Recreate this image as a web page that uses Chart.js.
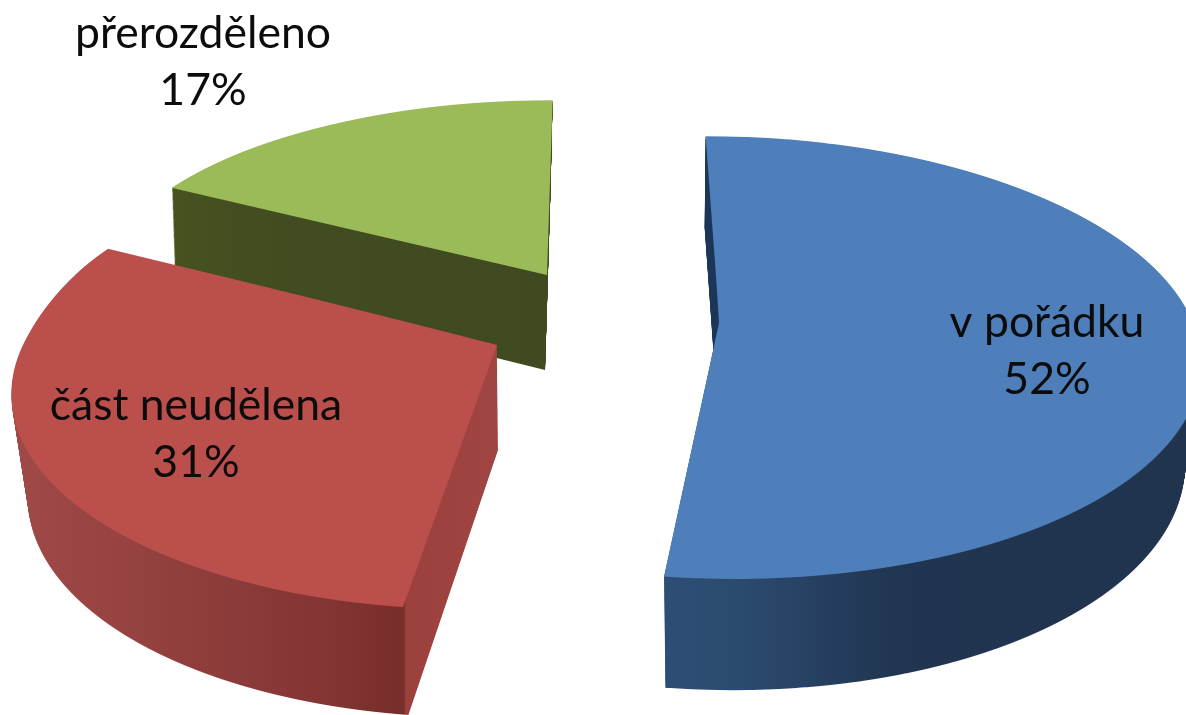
<!DOCTYPE html>
<html><head><meta charset="utf-8">
<style>html,body{margin:0;padding:0;background:#fff;overflow:hidden}canvas{display:block}</style>
<script src="https://cdn.jsdelivr.net/npm/chart.js@4"></script>
</head><body><canvas id="c" width="1186" height="715"></canvas>
<script>
const categories = ['v pořádku', 'část neudělena', 'přerozděleno'];
const values = [52, 31, 17];
const faceColors = ['#4e7fba', '#bb4f4c', '#9bba58'];

// Camera: how each exploded slice's disc projects onto the page (top face, bottom face).
// cu / c: horizontal lean of the far / near part of the disc.
const projTop = [
  {x:719, y:323, a:474, cu:16, c:13,  d:216, p:-.156},
  {x:497, y:345, a:474, cu:34, c:-18, d:217, p:-.18},
  {x:547, y:275, a:446, cu:-6, c:-6,  d:187, p:-.07}
];
const projBottom = [
  {x:718, y:423, a:459, cu:16, c:13,  d:226, p:-.154},
  {x:498, y:450, a:460, cu:34, c:-17, d:222, p:-.17},
  {x:545, y:370, a:440, cu:-6, c:-6,  d:197, p:-.07}
];
const wallShade = [
  {from:660, to:1186, stops:[[0,'#2d4e75'],[.16,'#2b4a6f'],[.45,'#203551'],[1,'#21344e']], cut:360, cutColor:'#1c3657'},
  {from:13, to:498, stops:[[0,'#a04a48'],[.4,'#8e3d3b'],[.65,'#833533'],[.806,'#772d2b'],[.81,'#9c403d'],[1,'#a04543']]},
  {from:172, to:548, stops:[[0,'#46521f'],[.3,'#414c21'],[1,'#404a20']]}
];
const labelPos = [[1047,337],[196,420],[203,48]];
const lineGap = 57;
const labelFont = '44.5px Lato';

const W = 1186, H = 715, BLEND = .35;
function lerp(s, e, t){const o={};for(const k in s)o[k]=s[k]+(e[k]-s[k])*t;return o;}

// sideways lean at depth v: c on the near half, easing to cu across the far half
function lean(P, v){
  if(v>=0) return {s:P.c*v, slope:P.c};
  if(v>-BLEND) return {s:P.c*v+(P.c-P.cu)*v*v/(2*BLEND), slope:P.c+(P.c-P.cu)*v/BLEND};
  return {s:-BLEND*(P.c+P.cu)/2+P.cu*(v+BLEND), slope:P.cu};
}

function stamp(ctx, el, P, step){
  const R = el.outerRadius;
  const top = Math.floor(P.y - P.d/(1-P.p)) - 1;
  const bot = Math.ceil(P.y + P.d/(1+P.p)) + 1;
  for(let r=top;r<bot;r+=step){
    if(r+step<0||r>H) continue;
    const yc=r+step/2, Y=yc-P.y, v=Y/(P.d-P.p*Y), w=1+P.p*v, dy=P.d/(w*w);
    const l=lean(P,v);
    const A=P.a/(w*R), C=l.slope/(w*R), D=dy/R;
    const E=P.x+l.s/w-A*el.x-C*(el.y+v*R), F=yc-dy*(v+el.y/R);
    ctx.save();
    ctx.beginPath();ctx.rect(0,r,W,step);ctx.clip();
    ctx.setTransform(A,0,C,D,E,F);
    el.draw(ctx);
    ctx.restore();
  }
}

const pie3d = {
  id:'pie3d',
  beforeDatasetsDraw(chart){
    const ctx=chart.ctx, arcs=chart.getDatasetMeta(0).data;
    for(const i of [2,1,0]){
      const el=arcs[i], face=el.options;
      // walls: stacked copies of the arc between the bottom and top faces
      const off=document.createElement('canvas');off.width=W;off.height=H;
      const o=off.getContext('2d');
      el.options=Object.assign({},face,{backgroundColor:'#000'});
      const N=100;
      for(let k=N;k>=1;k--) stamp(o,el,lerp(projTop[i],projBottom[i],k/N),1);
      el.options=face;
      const s=wallShade[i], g=o.createLinearGradient(s.from,0,s.to,0);
      s.stops.forEach(q=>g.addColorStop(q[0],q[1]));
      o.globalCompositeOperation='source-in';
      o.fillStyle=g;o.fillRect(0,0,W,H);
      if(s.cut){o.globalCompositeOperation='source-atop';o.fillStyle=s.cutColor;o.fillRect(0,0,W,s.cut);}
      ctx.drawImage(off,0,0);
      stamp(ctx,el,projTop[i],1);
    }
    const total=values.reduce((a,b)=>a+b,0);
    ctx.save();
    ctx.font=labelFont;ctx.fillStyle='#0c0c0c';ctx.textAlign='center';ctx.textBaseline='alphabetic';
    categories.forEach((n,i)=>{
      ctx.fillText(n,labelPos[i][0],labelPos[i][1]);
      ctx.fillText(Math.round(values[i]/total*100)+'%',labelPos[i][0],labelPos[i][1]+lineGap);
    });
    ctx.restore();
    return false;
  }
};

new Chart(document.getElementById('c'),{
  type:'pie',
  data:{labels:categories,datasets:[{data:values,backgroundColor:faceColors,borderWidth:0}]},
  options:{responsive:false,devicePixelRatio:1,animation:false,
    plugins:{legend:{display:false},tooltip:{enabled:false}}},
  plugins:[pie3d]
});
</script></body></html>
